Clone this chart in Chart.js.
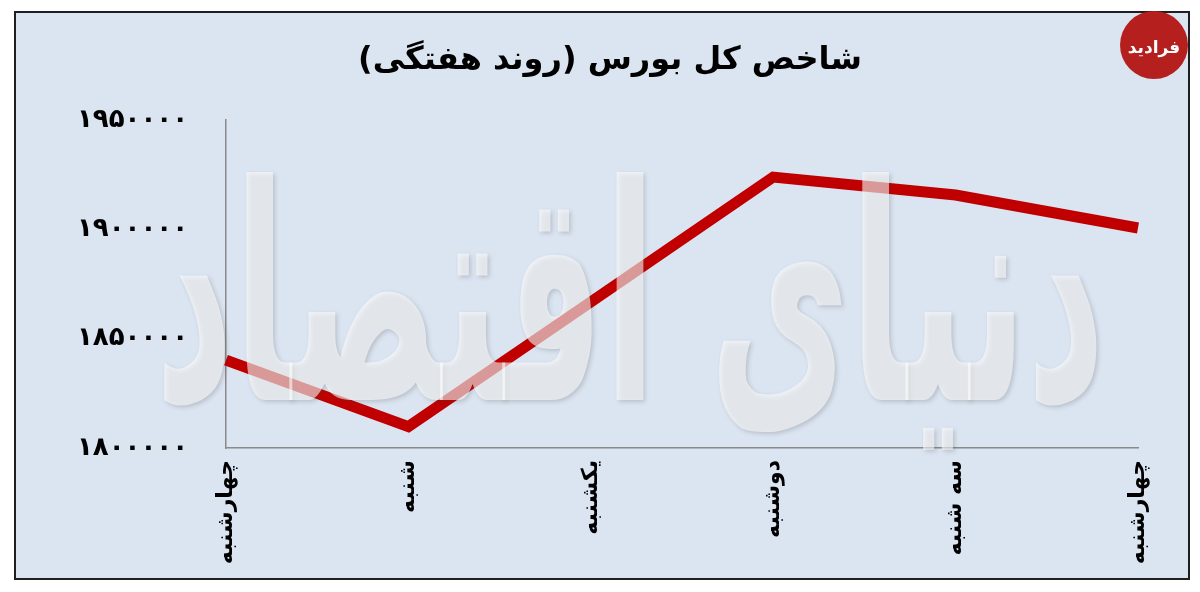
<!DOCTYPE html>
<html lang="fa">
<head>
<meta charset="utf-8">
<title>شاخص کل بورس</title>
<script src="https://cdn.jsdelivr.net/npm/chart.js@4/dist/chart.umd.min.js"></script>
<style>
    html, body { margin: 0; padding: 0; background: #ffffff; }
    #wrap { position: relative; width: 1200px; height: 592px; }
</style>
</head>
<body>
<div id="wrap">
    <canvas id="indexChart" width="1200" height="592" dir="rtl"></canvas>
</div>
<script>
// Chart data
const days = ['چهارشنبه', 'شنبه', 'یکشنبه', 'دوشنبه', 'سه شنبه', 'چهارشنبه'];
const indexValues = [1840200, 1809800, 1866800, 1923900, 1915700, 1900600];
const yTicks = [1800000, 1850000, 1900000, 1950000];
const chartTitle = 'شاخص کل بورس (روند هفتگی)';
const watermarkText = 'دنیای اقتصاد';
const logoText = 'فرادید';

const faDigits = '۰۱۲۳۴۵۶۷۸۹';
function toPersian(n) {
    return String(n).replace(/[0-9]/g, d => faDigits[d]);
}

const fontFamily = '"DejaVu Sans", Tahoma, sans-serif';

// Light blue panel with dark frame, and the title above the plot
const framePlugin = {
    id: 'frame',
    beforeDraw(chart) {
        const ctx = chart.ctx;
        ctx.save();
        ctx.fillStyle = '#dbe5f1';
        ctx.fillRect(15, 12, 1174, 567);
        ctx.strokeStyle = '#1f1f1f';
        ctx.lineWidth = 2;
        ctx.strokeRect(15, 12, 1174, 567);

        ctx.direction = 'rtl';
        ctx.fillStyle = '#000000';
        ctx.font = 'bold 32px ' + fontFamily;
        ctx.textAlign = 'center';
        ctx.textBaseline = 'middle';
        ctx.fillText(chartTitle, 610, 61);
        ctx.restore();
    }
};

// Big translucent watermark over the line, plus the corner logo
const watermarkPlugin = {
    id: 'watermark',
    afterDatasetsDraw(chart) {
        const ctx = chart.ctx;
        ctx.save();
        ctx.direction = 'rtl';
        ctx.font = 'bold 300px ' + fontFamily;
        const w = ctx.measureText(watermarkText).width;
        const sx = 950 / w;
        ctx.translate(630, 400);
        ctx.scale(sx, 1);
        ctx.textAlign = 'center';
        ctx.textBaseline = 'alphabetic';
        ctx.shadowColor = 'rgba(60,60,60,0.35)';
        ctx.shadowBlur = 4;
        ctx.shadowOffsetX = 2;
        ctx.shadowOffsetY = 2;
        ctx.fillStyle = 'rgba(255,255,255,0.58)';
        ctx.fillText(watermarkText, 0, 0);
        ctx.restore();
    },
    afterDraw(chart) {
        const ctx = chart.ctx;
        ctx.save();
        ctx.beginPath();
        ctx.arc(1154, 45, 34, 0, Math.PI * 2);
        ctx.fillStyle = '#b5201f';
        ctx.fill();
        ctx.direction = 'rtl';
        ctx.fillStyle = '#ffffff';
        ctx.font = 'bold 17px ' + fontFamily;
        ctx.textAlign = 'center';
        ctx.textBaseline = 'middle';
        ctx.fillText(logoText, 1154, 49);
        ctx.restore();
    }
};

const indexChart = new Chart(document.getElementById('indexChart'), {
    type: 'line',
    data: {
        labels: days,
        datasets: [{
            data: indexValues,
            borderColor: '#c00000',
            borderWidth: 11,
            borderJoinStyle: 'miter',
            borderCapStyle: 'butt',
            pointRadius: 0,
            tension: 0,
            fill: false
        }]
    },
    options: {
        responsive: false,
        animation: false,
        devicePixelRatio: 1,
        layout: { padding: { left: 0, right: 62, top: 120, bottom: 0 } },
        plugins: {
            legend: { display: false },
            tooltip: { enabled: false },
            title: { display: false }
        },
        scales: {
            x: {
                offset: false,
                afterFit(scale) { scale.height = 144; },
                grid: { display: true, drawOnChartArea: false, drawTicks: false },
                border: { display: true, color: '#8a8a8a', width: 1.5 },
                ticks: {
                    autoSkip: false,
                    minRotation: 90,
                    maxRotation: 90,
                    padding: 12,
                    color: '#000000',
                    font: { family: fontFamily, size: 22, weight: 'bold' }
                }
            },
            y: {
                min: 1800000,
                max: 1950000,
                afterFit(scale) { scale.width = 226; },
                afterBuildTicks(scale) { scale.ticks = yTicks.map(v => ({ value: v })); },
                grid: { display: true, drawOnChartArea: false, drawTicks: false },
                border: { display: true, color: '#8a8a8a', width: 1.5 },
                ticks: {
                    padding: 38,
                    color: '#000000',
                    font: { family: fontFamily, size: 26, weight: 'bold' },
                    callback: v => toPersian(v)
                }
            }
        }
    },
    plugins: [framePlugin, watermarkPlugin]
});
</script>
</body>
</html>
